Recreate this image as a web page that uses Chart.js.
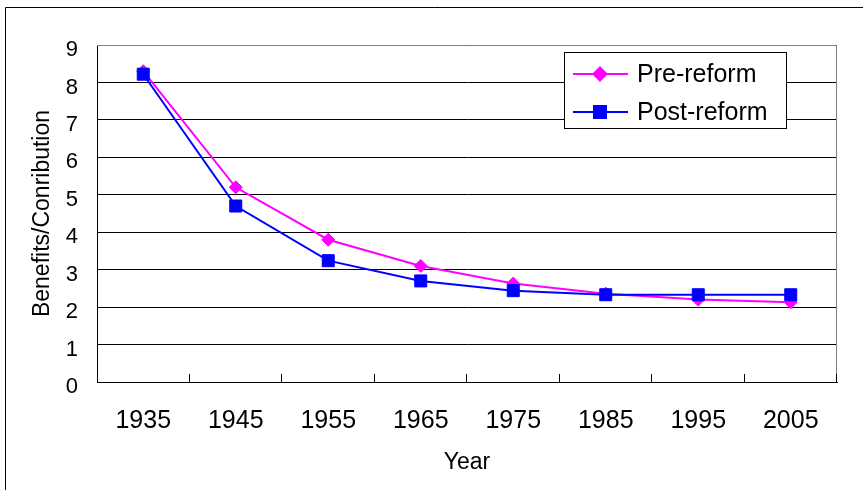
<!DOCTYPE html>
<html>
<head>
<meta charset="utf-8">
<script src="https://cdn.jsdelivr.net/npm/chart.js@4"></script>
<style>
  body { margin: 0; background: #fff; }
  canvas { display: block; }
</style>
</head>
<body>
<canvas id="grafico" width="863" height="490"></canvas>
<script>
const anos = ["1935", "1945", "1955", "1965", "1975", "1985", "1995", "2005"];
const preReforma = [8.3, 5.2, 3.8, 3.1, 2.63, 2.36, 2.2, 2.13];
const posReforma = [8.22, 4.7, 3.24, 2.7, 2.44, 2.33, 2.33, 2.33];
const rotulos = ["Pre-reform", "Post-reform"];
const tituloX = "Year";
const tituloY = "Benefits/Conribution";

const fonte = "'Liberation Sans', Arial, sans-serif";

// moldura, borda cinza da área do gráfico, marcas do eixo x e legenda
const extras = {
  id: "extras",
  beforeDraw(chart) {
    const ctx = chart.ctx;
    ctx.save();
    ctx.fillStyle = "#fff";
    ctx.fillRect(0, 0, chart.width, chart.height);
    ctx.strokeStyle = "#000";
    ctx.lineWidth = 1;
    ctx.beginPath();
    ctx.moveTo(5.5, chart.height + 5);
    ctx.lineTo(5.5, 7.5);
    ctx.lineTo(chart.width + 5, 7.5);
    ctx.stroke();
    ctx.restore();
  },
  afterDraw(chart) {
    const ctx = chart.ctx;
    const a = chart.chartArea;
    ctx.save();
    ctx.strokeStyle = "#808080";
    ctx.lineWidth = 1;
    ctx.beginPath();
    ctx.moveTo(a.left, a.top + 0.5);
    ctx.lineTo(a.right - 0.5, a.top + 0.5);
    ctx.lineTo(a.right - 0.5, a.bottom);
    ctx.stroke();

    // marcas do eixo x para dentro
    const x = chart.scales.x;
    const n = anos.length;
    ctx.strokeStyle = "#000";
    ctx.beginPath();
    for (let i = 1; i <= n; i++) {
      const px = Math.round(x.left + (i * (x.right - x.left)) / n) - 0.5;
      ctx.moveTo(px, a.bottom);
      ctx.lineTo(px, a.bottom - 8);
    }
    ctx.stroke();

    // legenda
    const bx = 564, by = 52, bw = 222, bh = 76;
    ctx.fillStyle = "#fff";
    ctx.fillRect(bx, by, bw, bh);
    ctx.strokeStyle = "#000";
    ctx.strokeRect(bx + 0.5, by + 0.5, bw, bh);
    ctx.font = "25px " + fonte;
    ctx.textBaseline = "middle";
    ctx.textAlign = "left";
    chart.data.datasets.forEach((ds, i) => {
      const cy = by + 22 + i * 38;
      ctx.strokeStyle = ds.borderColor;
      ctx.lineWidth = 2;
      ctx.beginPath();
      ctx.moveTo(573, cy);
      ctx.lineTo(628, cy);
      ctx.stroke();
      Chart.helpers.drawPoint(ctx, {
        pointStyle: ds.pointStyle,
        radius: ds.pointRadius,
        borderWidth: 1,
        rotation: 0
      }, 600, cy);
      ctx.fillStyle = ds.borderColor;
      ctx.fill();
      ctx.fillStyle = "#000";
      ctx.fillText(ds.label, 637, cy + 1);
    });
    ctx.restore();
  }
};

const ctx = document.getElementById("grafico");
window.grafico = new Chart(ctx, {
  type: "line",
  data: {
    labels: anos,
    datasets: [
      {
        label: rotulos[0],
        data: preReforma,
        borderColor: "#ff00ff",
        backgroundColor: "#ff00ff",
        borderWidth: 2,
        pointStyle: "rectRot",
        pointRadius: 6.5,
        pointBorderWidth: 1,
        order: 1
      },
      {
        label: rotulos[1],
        data: posReforma,
        borderColor: "#0000ff",
        backgroundColor: "#0000ff",
        borderWidth: 2,
        pointStyle: "rect",
        pointRadius: 8.5,
        pointBorderWidth: 1,
        order: 0
      }
    ]
  },
  options: {
    responsive: false,
    animation: false,
    layout: { padding: { top: 45, right: 26, bottom: 0, left: 0 } },
    plugins: {
      legend: { display: false },
      tooltip: { enabled: false }
    },
    scales: {
      x: {
        offset: true,
        grid: { display: false, drawTicks: false },
        border: { color: "#000", width: 1 },
        ticks: { color: "#000", font: { family: fonte, size: 25 }, padding: 24, maxRotation: 0 },
        title: {
          display: true,
          text: tituloX,
          color: "#000",
          font: { family: fonte, size: 23 },
          padding: { top: 0, bottom: 14 }
        },
        afterFit(scale) { scale.height = 108; }
      },
      y: {
        min: 0,
        max: 9,
        ticks: { stepSize: 1, color: "#000", font: { family: fonte, size: 22 }, padding: 19, labelOffset: 5 },
        grid: { color: "#000", lineWidth: 1, drawTicks: false },
        border: { color: "#000", width: 1 },
        title: {
          display: true,
          text: tituloY,
          color: "#000",
          font: { family: fonte, size: 23 },
          padding: { top: 29, bottom: 0 }
        },
        afterFit(scale) { scale.width = 97; }
      }
    }
  },
  plugins: [extras]
});
</script>
</body>
</html>
